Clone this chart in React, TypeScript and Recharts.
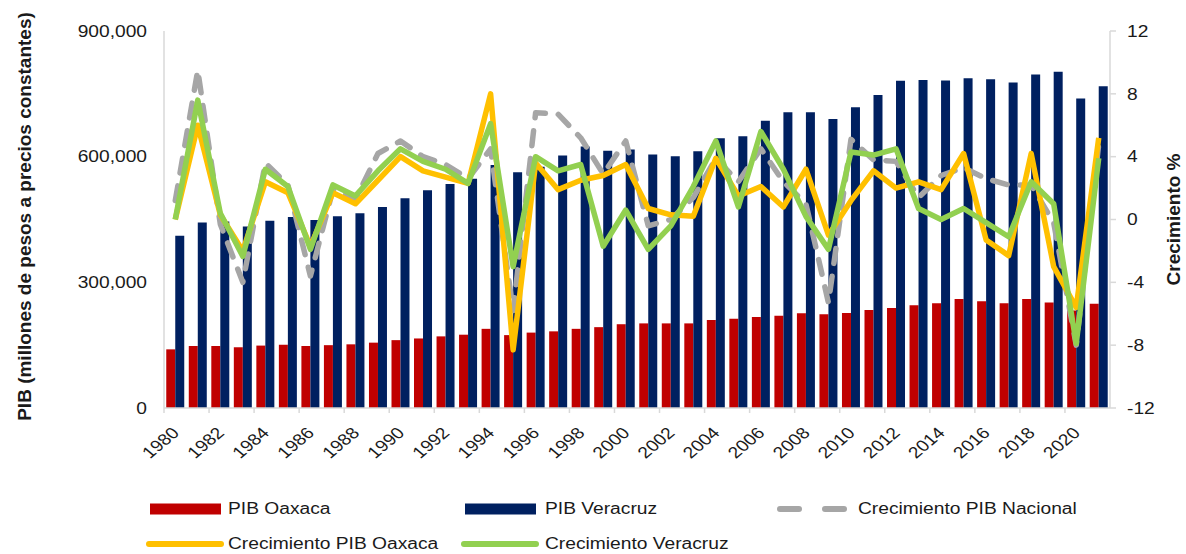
import React from 'react';
import { ComposedChart, Bar, Line, XAxis, YAxis, Legend } from 'recharts';

const years = [
  '1980', '1981', '1982', '1983', '1984', '1985', '1986', '1987', '1988', '1989',
  '1990', '1991', '1992', '1993', '1994', '1995', '1996', '1997', '1998', '1999',
  '2000', '2001', '2002', '2003', '2004', '2005', '2006', '2007', '2008', '2009',
  '2010', '2011', '2012', '2013', '2014', '2015', '2016', '2017', '2018', '2019',
  '2020', '2021',
];

// PIB, millones de pesos a precios constantes
const pibOaxaca = [
  140000, 148000, 148000, 145000, 149000, 151000, 148000, 150000, 152000, 156000,
  162000, 166000, 171000, 175000, 189000, 174000, 180000, 183000, 189000, 193000,
  200000, 202000, 202000, 202000, 210000, 213000, 217000, 220000, 226000, 224000,
  227000, 234000, 239000, 245000, 250000, 260000, 255000, 250000, 260000, 252000,
  233000, 249000,
];

const pibVeracruz = [
  411000, 443000, 445000, 433000, 447000, 456000, 449000, 458000, 465000, 480000,
  501000, 520000, 535000, 547000, 580000, 563000, 576000, 603000, 624000, 614000,
  617000, 605000, 601000, 613000, 644000, 649000, 686000, 706000, 706000, 690000,
  718000, 747000, 781000, 783000, 782000, 787000, 785000, 777000, 796000, 803000,
  739000, 768000,
];

// crecimiento anual, %
const crecNacional = [
  1.2, 9.5, -0.3, -4.0, 3.6, 2.2, -3.6, 1.9, 1.3, 4.2,
  5.0, 4.0, 3.5, 2.6, 4.5, -5.8, 6.8, 6.7, 5.2, 2.9,
  5.0, -0.4, 0.0, 1.4, 3.9, 2.4, 4.5, 2.4, 1.0, -5.3,
  5.1, 3.8, 3.7, 1.4, 2.8, 3.3, 2.6, 2.2, 2.2, -0.2,
  -8.0, 4.8,
];

const crecOaxaca = [
  0.0, 6.0, 0.3, -2.0, 2.4, 1.7, -1.7, 1.7, 1.0, 2.5,
  4.0, 3.1, 2.7, 2.3, 8.0, -8.3, 3.6, 1.9, 2.5, 2.8,
  3.5, 0.7, 0.3, 0.2, 3.9, 1.5, 2.1, 0.8, 3.2, -1.0,
  1.2, 3.1, 2.0, 2.4, 1.9, 4.2, -1.3, -2.3, 4.2, -3.0,
  -5.6, 5.2,
];

const crecVeracruz = [
  0.0, 7.6, 0.4, -2.35, 3.2, 2.1, -1.9, 2.2, 1.5, 3.1,
  4.5, 3.7, 3.2, 2.3, 6.1, -3.0, 4.0, 3.1, 3.5, -1.7,
  0.6, -1.9, -0.4, 2.1, 5.0, 0.8, 5.6, 3.2, 0.2, -1.9,
  4.3, 4.1, 4.5, 0.7, 0.0, 0.7, -0.2, -1.1, 2.4, 1.0,
  -7.9, 3.9,
];

const leftTicks = [0, 300000, 600000, 900000];
const rightTicks = [-12, -8, -4, 0, 4, 8, 12];

const data = years.map((year, i) => ({
  year,
  oaxaca: pibOaxaca[i],
  veracruz: pibVeracruz[i],
  nacional: crecNacional[i],
  crecOax: crecOaxaca[i],
  crecVer: crecVeracruz[i],
}));

const W = 1186;
const H = 554;
const MARGIN = { top: 31, right: 0, bottom: 86, left: 84 };
const LEFT_W = 80;
const RIGHT_W = 76;
const PLOT_W = W - MARGIN.left - LEFT_W - MARGIN.right - RIGHT_W;
const BAND = PLOT_W / years.length;

const FONT = '"Liberation Sans", Arial, sans-serif';
const AXIS = '#D9D9D9';
const TEXT = '#1a1a1a';
const RED = '#C00000';
const NAVY = '#002060';
const GRAY = '#A6A6A6';
const YELLOW = '#FFC000';
const GREEN = '#92D050';

// the source picture is stretched ~1.2x horizontally, so horizontal text gets scaled too
const SX = 1.2;

const YTick = (props: any) => {
  const { x, y, payload, textAnchor, fmt } = props;
  return (
    <text
      transform={`translate(${x},${y}) scale(${SX},1)`}
      textAnchor={textAnchor}
      dy="0.36em"
      fontSize={16}
      fontFamily={FONT}
      fill={TEXT}
    >
      {fmt ? fmt(payload.value) : payload.value}
    </text>
  );
};

const XTick = (props: any) => {
  const { x, y, payload } = props;
  const edge = x - BAND / 2;
  return (
    <g>
      <line x1={edge} x2={edge} y1={y} y2={y + 5} stroke={AXIS} strokeWidth={1.5} />
      <text
        transform={`translate(${x + 5},${y + 26}) scale(${SX},1) rotate(-45)`}
        textAnchor="end"
        fontSize={16}
        fontFamily={FONT}
        fill={TEXT}
      >
        {payload.value}
      </text>
    </g>
  );
};

const AxisTitle = (props: any) => {
  const { viewBox, text, dx, dy } = props;
  const cx = viewBox.x + dx;
  const cy = viewBox.y + viewBox.height / 2 + dy;
  return (
    <text
      transform={`translate(${cx},${cy}) rotate(-90)`}
      textAnchor="middle"
      dy="0.36em"
      fontSize={19}
      fontWeight="bold"
      fontFamily={FONT}
      fill={TEXT}
    >
      {text}
    </text>
  );
};

const legendItems = [
  { label: 'PIB Oaxaca', kind: 'bar', color: RED, x: 150, row: 0, textX: 228 },
  { label: 'PIB Veracruz', kind: 'bar', color: NAVY, x: 465, row: 0, textX: 545 },
  { label: 'Crecimiento PIB Nacional', kind: 'dash', color: GRAY, x: 777, row: 0, textX: 858 },
  { label: 'Crecimiento PIB Oaxaca', kind: 'line', color: YELLOW, x: 147, row: 1, textX: 228 },
  { label: 'Crecimiento Veracruz', kind: 'line', color: GREEN, x: 462, row: 1, textX: 545 },
];

const renderLegend = () => (
  <div style={{ position: 'relative', width: W, height: 66, fontFamily: FONT }}>
    {legendItems.map((it) => {
      const cy = it.row === 0 ? 21 : 56;
      return (
        <React.Fragment key={it.label}>
          <svg
            style={{ position: 'absolute', left: it.x - 4, top: cy - 8 }}
            width={84}
            height={16}
          >
            {it.kind === 'bar' && <rect x={4} y={2.5} width={71} height={11} fill={it.color} />}
            {it.kind === 'line' && (
              <line x1={6} x2={78} y1={8} y2={8} stroke={it.color} strokeWidth={6} strokeLinecap="round" />
            )}
            {it.kind === 'dash' && (
              <g stroke={it.color} strokeWidth={6} strokeLinecap="round">
                <line x1={7} x2={26} y1={8} y2={8} />
                <line x1={52} x2={71} y1={8} y2={8} />
              </g>
            )}
          </svg>
          <span
            style={{
              position: 'absolute',
              left: it.textX,
              top: cy - 10,
              fontSize: 16,
              lineHeight: '20px',
              color: TEXT,
              whiteSpace: 'nowrap',
              display: 'inline-block',
              transform: `scaleX(${SX})`,
              transformOrigin: 'left center',
            }}
          >
            {it.label}
          </span>
        </React.Fragment>
      );
    })}
  </div>
);

export default function App() {
  return (
    <div style={{ position: 'absolute', left: 0, top: 0, width: W, height: H, background: '#fff' }}>
      <ComposedChart
        width={W}
        height={H}
        data={data}
        margin={MARGIN}
        barCategoryGap="10%"
        barGap={0}
      >
        <XAxis
          dataKey="year"
          interval={1}
          height={60}
          tickLine={false}
          tickSize={0}
          tickMargin={0}
          axisLine={{ stroke: AXIS, strokeWidth: 1.5 }}
          tick={<XTick />}
        />
        <YAxis
          yAxisId="pib"
          orientation="left"
          width={LEFT_W}
          domain={[0, 900000]}
          ticks={leftTicks}
          tickLine={false}
          tickSize={0}
          tickMargin={17}
          axisLine={{ stroke: AXIS, strokeWidth: 1.5 }}
          tick={<YTick fmt={(v: number) => v.toLocaleString('en-US')} />}
          label={<AxisTitle text="PIB (millones de pesos a precios constantes)" dx={-60} dy={-3} />}
        />
        <YAxis
          yAxisId="crec"
          orientation="right"
          width={RIGHT_W}
          domain={[-12, 12]}
          ticks={rightTicks}
          tickSize={6}
          tickMargin={11}
          tickLine={{ stroke: AXIS, strokeWidth: 1.5 }}
          axisLine={{ stroke: AXIS, strokeWidth: 1.5 }}
          tick={<YTick />}
          label={<AxisTitle text="Crecimiento %" dx={63} dy={0} />}
        />
        <Legend
          layout="horizontal"
          verticalAlign="middle"
          align="center"
          content={renderLegend}
          wrapperStyle={{ position: 'absolute', left: 0, top: 488, width: W, height: 66 }}
        />
        <Bar yAxisId="pib" dataKey="oaxaca" name="PIB Oaxaca" fill={RED} isAnimationActive={false} />
        <Bar yAxisId="pib" dataKey="veracruz" name="PIB Veracruz" fill={NAVY} isAnimationActive={false} />
        <Line
          yAxisId="crec"
          type="linear"
          dataKey="nacional"
          name="Crecimiento PIB Nacional"
          stroke={GRAY}
          strokeWidth={5.5}
          strokeDasharray="15 13"
          strokeLinecap="round"
          strokeLinejoin="round"
          dot={false}
          activeDot={false}
          isAnimationActive={false}
        />
        <Line
          yAxisId="crec"
          type="linear"
          dataKey="crecOax"
          name="Crecimiento PIB Oaxaca"
          stroke={YELLOW}
          strokeWidth={5.5}
          strokeLinejoin="round"
          dot={false}
          activeDot={false}
          isAnimationActive={false}
        />
        <Line
          yAxisId="crec"
          type="linear"
          dataKey="crecVer"
          name="Crecimiento Veracruz"
          stroke={GREEN}
          strokeWidth={5.5}
          strokeLinejoin="round"
          dot={false}
          activeDot={false}
          isAnimationActive={false}
        />
      </ComposedChart>
    </div>
  );
}
